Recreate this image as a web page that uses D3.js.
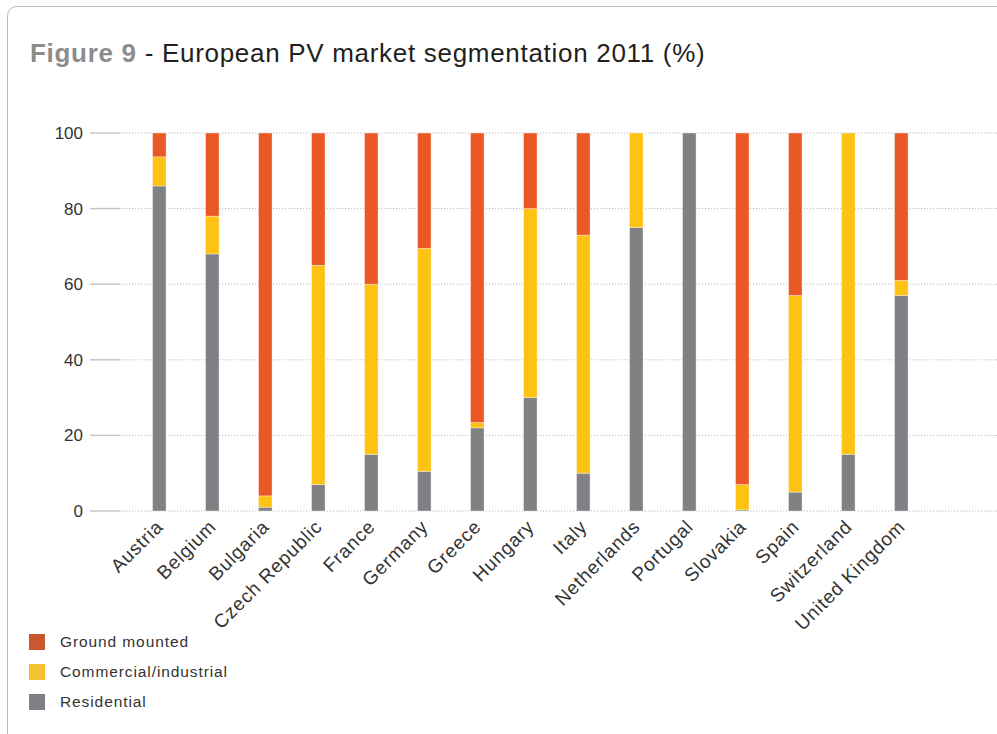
<!DOCTYPE html>
<html>
<head>
<meta charset="utf-8">
<script src="https://cdn.jsdelivr.net/npm/d3@7"></script>
<style>
  html, body { margin: 0; padding: 0; background: #fff; }
  svg { display: block; font-family: "Liberation Sans", Arial, Helvetica, sans-serif; }
</style>
</head>
<body>
<svg id="chart" width="997" height="734"></svg>
<script>
const categories = ["Austria", "Belgium", "Bulgaria", "Czech Republic", "France", "Germany", "Greece", "Hungary", "Italy", "Netherlands", "Portugal", "Slovakia", "Spain", "Switzerland", "United Kingdom"];
const residential = [86, 68, 1, 7, 15, 10.5, 22, 30, 10, 75, 100, 0.3, 5, 15, 57];
const commercial = [7.7, 10, 3, 58, 45, 59, 1.4, 50, 63, 25, 0, 6.7, 52, 85, 4];
const groundMounted = [6.3, 22, 96, 35, 40, 30.5, 76.6, 20, 27, 0, 0, 93, 43, 0, 39];
const seriesNames = ["Residential", "Commercial/industrial", "Ground mounted"];
const yTicks = [0, 20, 40, 60, 80, 100];

const barColors = { "Residential": "#818185", "Commercial/industrial": "#FDC212", "Ground mounted": "#E95825" };
const legendColors = { "Residential": "#808084", "Commercial/industrial": "#F1C232", "Ground mounted": "#C9582E" };

const svg = d3.select("#chart");

// frame
svg.append("rect")
  .attr("x", 7.5).attr("y", 6.5)
  .attr("width", 1100).attr("height", 900)
  .attr("rx", 9).attr("ry", 9)
  .attr("fill", "#fff").attr("stroke", "#b9b9b9").attr("stroke-width", 1);

// title
const title = svg.append("text").attr("x", 30).attr("y", 62)
  .attr("font-size", 26).attr("letter-spacing", 0.7);
title.append("tspan").attr("font-weight", "bold").attr("fill", "#8c8c8c").text("Figure 9");
title.append("tspan").attr("fill", "#231f20").text(" - European PV market segmentation 2011 (%)");

const data = categories.map((c, i) => ({
  category: c,
  "Residential": residential[i],
  "Commercial/industrial": commercial[i],
  "Ground mounted": groundMounted[i]
}));

const x = d3.scaleBand().domain(categories).range([132.8, 927.8])
  .paddingInner(0.745).paddingOuter(0.3725);
const y = d3.scaleLinear().domain([0, 100]).range([511, 133]);

// gridlines
const grid = svg.append("g");
grid.selectAll("line.tick").data(yTicks).join("line")
  .attr("class", "tick")
  .attr("x1", 90).attr("x2", 120)
  .attr("y1", d => y(d)).attr("y2", d => y(d))
  .attr("stroke", "#c6c6c6").attr("stroke-width", 1.5);
grid.selectAll("line.grid").data(yTicks).join("line")
  .attr("class", "grid")
  .attr("x1", 120).attr("x2", 997)
  .attr("y1", d => y(d)).attr("y2", d => y(d))
  .attr("stroke", "#bdbdbd").attr("stroke-width", 1)
  .attr("stroke-dasharray", "1.2,1.8");

// y axis labels
const yAxis = d3.axisLeft(y).tickValues(yTicks).tickSize(0).tickPadding(0);
const yg = svg.append("g").attr("transform", "translate(83,0)").call(yAxis);
yg.select(".domain").remove();
yg.selectAll("text").attr("font-size", 17).attr("fill", "#333")
  .attr("font-family", "Liberation Sans, Arial, sans-serif");

// bars
const stack = d3.stack().keys(seriesNames)(data);
svg.append("g").selectAll("g").data(stack).join("g")
  .attr("fill", s => barColors[s.key])
  .selectAll("rect").data(s => s.filter(d => d[1] - d[0] > 0)).join("rect")
  .attr("x", d => x(d.data.category))
  .attr("width", x.bandwidth())
  .attr("y", d => y(d[1]))
  .attr("height", d => y(d[0]) - y(d[1]))
  .attr("stroke", "rgba(255,255,255,0.45)")
  .attr("stroke-width", 0.8);

// x axis labels
const xAxis = d3.axisBottom(x).tickSize(0).tickPadding(0);
const xg = svg.append("g").attr("transform", "translate(0,511)").call(xAxis);
xg.select(".domain").remove();
xg.selectAll("text")
  .attr("font-size", 19).attr("fill", "#333")
  .attr("font-family", "Liberation Sans, Arial, sans-serif")
  .attr("letter-spacing", 0.8)
  .attr("text-anchor", "end")
  .attr("dy", 0).attr("y", 0).attr("x", 0)
  .attr("transform", "translate(5,17) rotate(-45)");

// legend
const legendItems = ["Ground mounted", "Commercial/industrial", "Residential"];
const lg = svg.append("g").selectAll("g").data(legendItems).join("g")
  .attr("transform", (d, i) => `translate(29,${634 + i * 30})`);
lg.append("rect").attr("width", 16).attr("height", 16).attr("fill", d => legendColors[d]);
lg.append("text").attr("x", 31).attr("y", 13)
  .attr("font-size", 15.5).attr("fill", "#333").attr("letter-spacing", 0.9)
  .text(d => d);
</script>
</body>
</html>
